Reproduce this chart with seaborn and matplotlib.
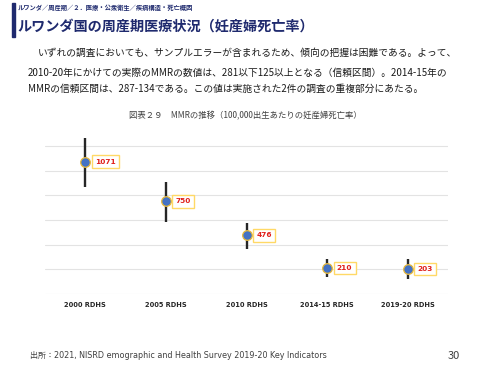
import matplotlib
matplotlib.use("Agg")
import matplotlib.pyplot as plt
import seaborn as sns
import pandas as pd

# données MMR (pour 100 000 naissances)
surveys = ["2000 RDHS", "2005 RDHS", "2010 RDHS", "2014-15 RDHS", "2019-20 RDHS"]
mmr = [1071, 750, 476, 210, 203]
ci_high = [1260, 905, 577, 287, 281]
ci_low = [870, 585, 362, 134, 125]
yticks = [0, 200, 400, 600, 800, 1000, 1200]

df = pd.DataFrame({"survey": surveys, "mmr": mmr, "hi": ci_high, "lo": ci_low})

sns.set_theme(style="white")
plt.rcParams["font.family"] = ["Noto Sans CJK JP", "DejaVu Sans"]

navy = "#1f2a6e"
fig = plt.figure(figsize=(5, 3.75), dpi=100)

# en-tête
fig.patches.append(plt.Rectangle((0.024, 0.902), 0.005, 0.09, transform=fig.transFigure,
                                 color=navy, zorder=5))
fig.text(0.036, 0.979, "ルワンダ／周産期／２．医療・公衆衛生／疾病構造・死亡概因",
         fontsize=4.5, color=navy, va="center", weight="bold")
fig.text(0.034, 0.93, "ルワンダ国の周産期医療状況（妊産婦死亡率）",
         fontsize=10.2, color=navy, va="center", weight="bold")

body = ["いずれの調査においても、サンプルエラーが含まれるため、傾向の把握は困難である。よって、",
        "2010-20年にかけての実際のMMRの数値は、281以下125以上となる（信頼区間）。2014-15年の",
        "MMRの信頼区間は、287-134である。この値は実施された2件の調査の重複部分にあたる。"]
fig.text(0.076, 0.859, body[0], fontsize=7, color="#1a1a1a", va="center")
fig.text(0.056, 0.806, body[1], fontsize=7, color="#1a1a1a", va="center")
fig.text(0.056, 0.762, body[2], fontsize=7, color="#1a1a1a", va="center")

fig.text(0.49, 0.691, "図表２９　MMRの推移（100,000出生あたりの妊産婦死亡率）",
         fontsize=6, color="#404040", ha="center", va="center")

ax = fig.add_axes([0.09, 0.216, 0.806, 0.428])
ax.vlines(df["survey"], df["lo"], df["hi"], color="#262626", lw=1.7, zorder=2)
sns.scatterplot(data=df, x="survey", y="mmr", ax=ax, s=48, color="#4472C4",
                edgecolor="#E8B93A", linewidth=0.9, zorder=3)

for i, v in enumerate(mmr):
    ax.annotate(str(v), (i, v), xytext=(7, 0), textcoords="offset points",
                fontsize=5.3, color="#E0201B", weight="bold", va="center", ha="left",
                family="DejaVu Sans",
                bbox=dict(boxstyle="square,pad=0.45", fc="white", ec="#FFD966", lw=1.0))

ax.set_xlim(-0.5, 4.5)
ax.set_ylim(0, 1300)
ax.set_yticks(yticks)
ax.set_yticklabels([])
ax.grid(axis="y", color="#e3e3e3", lw=0.8)
ax.set_axisbelow(True)
for s in ax.spines.values():
    s.set_visible(False)
ax.set_xlabel("")
ax.set_ylabel("")
ax.tick_params(axis="x", length=0, pad=6)
ax.tick_params(axis="y", length=0)
for lab in ax.get_xticklabels():
    lab.set_fontsize(4.8)
    lab.set_fontweight("bold")
    lab.set_family("DejaVu Sans")
    lab.set_color("#262626")

fig.text(0.06, 0.051, "出所：2021, NISRD emographic and Health Survey 2019-20 Key Indicators",
         fontsize=5.8, color="#404040", va="center", family=["DejaVu Sans", "Noto Sans CJK JP"])
fig.text(0.92, 0.051, "30", fontsize=8, color="#404040", va="center", ha="right")

fig.savefig("out.png", dpi=100)
